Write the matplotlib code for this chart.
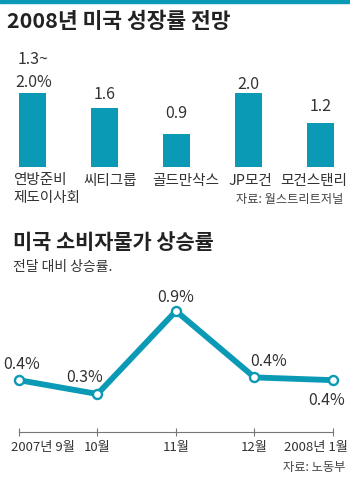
import numpy as np
import matplotlib
matplotlib.use("Agg")
import matplotlib.pyplot as plt

plt.rcParams['font.family'] = ['Noto Sans CJK KR', 'DejaVu Sans']

# 데이터: 2008년 미국 성장률 전망
forecasters = ["연방준비\n제도이사회", "씨티그룹", "골드만삭스", "JP모건", "모건스탠리"]
growth = [2.0, 1.6, 0.9, 2.0, 1.2]
growth_labels = ["2.0%", "1.6", "0.9", "2.0", "1.2"]

# 데이터: 미국 소비자물가 상승률 (전달 대비)
months = ["2007년 9월", "10월", "11월", "12월", "2008년 1월"]
cpi = [0.4, 0.3, 0.9, 0.42, 0.4]
cpi_labels = ["0.4%", "0.3%", "0.9%", "0.4%", "0.4%"]

TEAL = "#0a9ab5"
TXT = "#333333"
W, H = 350, 485

fig = plt.figure(figsize=(3.5, 4.85), dpi=100)
fig.patch.set_facecolor("white")

def fy(y):
    # 위에서부터 잰 픽셀 -> figure 좌표
    return 1 - y / H

# 상단 띠
fig.patches.append(plt.Rectangle((0, fy(4)), 1, 4 / H, transform=fig.transFigure,
                                 color=TEAL, zorder=0))

# 1. 막대그래프
fig.text(7 / W, fy(22), "2008년 미국 성장률 전망", fontsize=15.5, fontweight="bold",
         color="#222222", va="center", ha="left")

ax1 = fig.add_axes([0, fy(168), 1, 111 / H])
x = np.arange(len(growth))
ax1.bar(x, growth, width=0.375, color=TEAL)
ax1.set_xlim(-32.5 / 72, (W - 32.5) / 72)
ax1.set_ylim(0, 3)
ax1.axis("off")

val_gap = [7, 10, 17, 5, 13]
for i, (v, lab) in enumerate(zip(growth, growth_labels)):
    ax1.annotate(lab, xy=(i, v), xytext=(1 if i == 0 else 0, val_gap[i]),
                 textcoords="offset pixels", ha="center", va="baseline",
                 fontsize=11.5, color=TXT)
ax1.annotate("1.3~", xy=(0, growth[0]), xytext=(1, val_gap[0] + 23),
             textcoords="offset pixels", ha="center", va="baseline",
             fontsize=11.5, color=TXT)

cat_dx = [-19.5, 6, 9.5, 1.5, -7]
for i, lab in enumerate(forecasters):
    if i == 0:
        ax1.annotate(lab, xy=(i, 0), xytext=(cat_dx[i], -5),
                     textcoords="offset pixels", ha="left", va="top",
                     fontsize=10.5, color=TXT, linespacing=1.4)
    else:
        ax1.annotate(lab, xy=(i, 0), xytext=(cat_dx[i], -13.5),
                     textcoords="offset pixels", ha="center", va="center",
                     fontsize=10.5, color=TXT)

fig.text(343 / W, fy(200), "자료: 월스트리트저널", fontsize=8.8, color="#444444",
         ha="right", va="center")

# 2. 꺾은선그래프
fig.text(13 / W, fy(243), "미국 소비자물가 상승률", fontsize=15, fontweight="bold",
         color="#222222", va="center", ha="left")
fig.text(13 / W, fy(267), "전달 대비 상승률.", fontsize=10, color=TXT,
         va="center", ha="left")

ax2 = fig.add_axes([0, fy(433), 1, (433 - 290) / H])
ax2.plot(x, cpi, color=TEAL, lw=4.2, solid_joinstyle="miter", marker="o",
         markersize=6.5, markerfacecolor="white", markeredgecolor=TEAL,
         markeredgewidth=1.7, zorder=3)
ax2.set_xlim(-19 / 78.5, (W - 19) / 78.5)
ax2.set_ylim(0.3 - 38 / 138.3, 0.3 + 105 / 138.3)
for s in ["top", "left", "right"]:
    ax2.spines[s].set_visible(False)
ax2.spines["bottom"].set_bounds(0, 4)
ax2.spines["bottom"].set_color("#777777")
ax2.spines["bottom"].set_linewidth(0.8)
ax2.set_yticks([])
ax2.set_xticks(x)
ax2.set_xticklabels([])
ax2.tick_params(axis="x", direction="inout", length=6, width=0.8, color="#777777")
ax2.patch.set_alpha(0)

pt_off = [(3, 17), (-13, 18), (0, 15), (14, 17), (-6, -19)]
for i, (v, lab) in enumerate(zip(cpi, cpi_labels)):
    ax2.annotate(lab, xy=(i, v), xytext=pt_off[i], textcoords="offset pixels",
                 ha="center", va="center", fontsize=11.5, color=TXT)

tick_dx = [-8, 0, 0, 0, 15]
tick_ha = ["left", "center", "center", "center", "right"]
for i, lab in enumerate(months):
    ax2.annotate(lab, xy=(i, 0), xycoords=("data", "axes fraction"),
                 xytext=(tick_dx[i], -15), textcoords="offset pixels",
                 ha=tick_ha[i], va="center", fontsize=9.5, color=TXT)

fig.text(345 / W, fy(468), "자료: 노동부", fontsize=8.8, color="#444444",
         ha="right", va="center")

fig.savefig("out.png", dpi=100)
